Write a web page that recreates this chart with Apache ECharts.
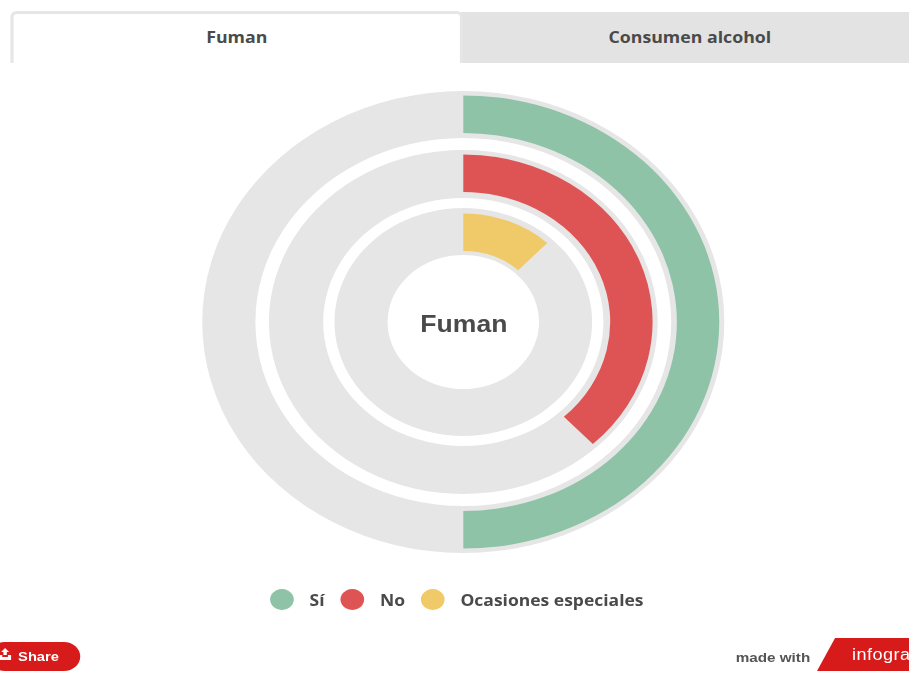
<!DOCTYPE html>
<html>
<head>
<meta charset="utf-8">
<title>Fuman</title>
<script src="https://cdn.jsdelivr.net/npm/echarts@6/dist/echarts.min.js"></script>
<style>
  html, body { margin: 0; padding: 0; width: 909px; height: 673px; overflow: hidden; background: #fff; }
  /* the reference is stretched sideways, so everything is laid out narrow and scaled */
  #page { position: absolute; left: 0; top: 0; width: 805px; height: 673px; transform: scaleX(1.13); transform-origin: 0 0; font-family: "Open Sans", sans-serif; color: #4a4a4a; filter: blur(0.4px); }
  #chart { position: absolute; left: 0; top: 0; width: 805px; height: 673px; }
  .tab { position: absolute; box-sizing: border-box; text-align: center; font-weight: 700; font-size: 15.7px; line-height: 50px; }
  #tab2 { left: 408px; top: 12px; width: 397px; height: 51px; background: #e3e3e3; padding-left: 8px; }
  #tab1 { left: 9px; top: 11px; width: 401px; height: 52px; background: #fff; border: 3px solid #e6e6e6; border-bottom: none; border-radius: 6px 6px 0 0; line-height: 46px; }
  #share { position: absolute; left: -10px; top: 642px; width: 81px; height: 29px; background: #d71a1a; border-radius: 15px; color: #fff; font: bold 13px/29px "Liberation Sans", sans-serif; }
  #share span { position: absolute; left: 26px; }
  #share svg { position: absolute; left: 9px; top: 6px; }
  #madewith { position: absolute; left: 651px; top: 649px; font: bold 13.5px/18px "Liberation Sans", sans-serif; color: #555; }
  #badge { position: absolute; left: 723px; top: 638px; width: 82px; height: 33px; background: #d71a1a; clip-path: polygon(16px 0, 100% 0, 100% 100%, 0 100%); color: #fff; font: 16px/33px "Liberation Sans", sans-serif; }
  #badge span { position: absolute; left: 31px; top: 0; letter-spacing: 0.4px; }
</style>
</head>
<body>
<div id="page">
  <div id="chart"></div>
  <div class="tab" id="tab2">Consumen alcohol</div>
  <div class="tab" id="tab1">Fuman</div>
  <div id="share">
    <svg width="11" height="12" viewBox="0 0 11 12"><path d="M0 7h3v2h5V7h3v5H0zM5.5 0L9 4H7v3H4V4H2z" fill="#fff"/></svg>
    <span>Share</span>
  </div>
  <div id="madewith">made with</div>
  <div id="badge"><span>infogra</span></div>
</div>
<script>
  var categories = ['Sí', 'No', 'Ocasiones especiales']
  var values = [50, 38, 12]
  var colors = ['#8ec3a7', '#de5455', '#f0ca69']
  var tabTitle = 'Fuman'

  var trackRadius = [[184, 231], [124, 172], [67, 114]]
  var barRadius = [[189, 226.5], [130, 167.5], [71, 108.5]]
  var center = [410, 322]

  var series = []
  categories.forEach(function (name, i) {
    // gris de fondo
    series.push({
      type: 'pie',
      silent: true,
      center: center,
      radius: trackRadius[i],
      label: {show: false},
      labelLine: {show: false},
      itemStyle: {color: '#e6e6e6'},
      data: [{name: 'track', value: 100}]
    })
    series.push({
      type: 'pie',
      silent: true,
      center: center,
      radius: barRadius[i],
      startAngle: 90,
      clockwise: true,
      label: {show: false},
      labelLine: {show: false},
      data: [
        {name: name, value: values[i], itemStyle: {color: colors[i]}},
        {name: 'resto', value: 100 - values[i], itemStyle: {color: 'transparent'}}
      ]
    })
  })

  var myChart = echarts.init(document.getElementById('chart'), null, {renderer: 'svg'})
  myChart.setOption({
    animation: false,
    color: colors,
    title: {
      text: tabTitle,
      left: 405.5,
      top: 307,
      textAlign: 'center',
      textStyle: {color: '#4a4a4a', fontSize: 23.5, fontWeight: 'bold', fontFamily: 'Liberation Sans'}
    },
    legend: {
      data: categories.map(function (name, i) {
        return {name: name, itemStyle: {color: colors[i]}}
      }),
      left: 234,
      top: 584,
      icon: 'circle',
      itemWidth: 21,
      itemHeight: 21,
      itemGap: 14,
      selectedMode: false,
      textStyle: {color: '#4a4a4a', fontSize: 15.5, fontWeight: 'bold', fontFamily: 'Open Sans', padding: [0, 0, 0, 9]}
    },
    series: series
  })
</script>
</body>
</html>
